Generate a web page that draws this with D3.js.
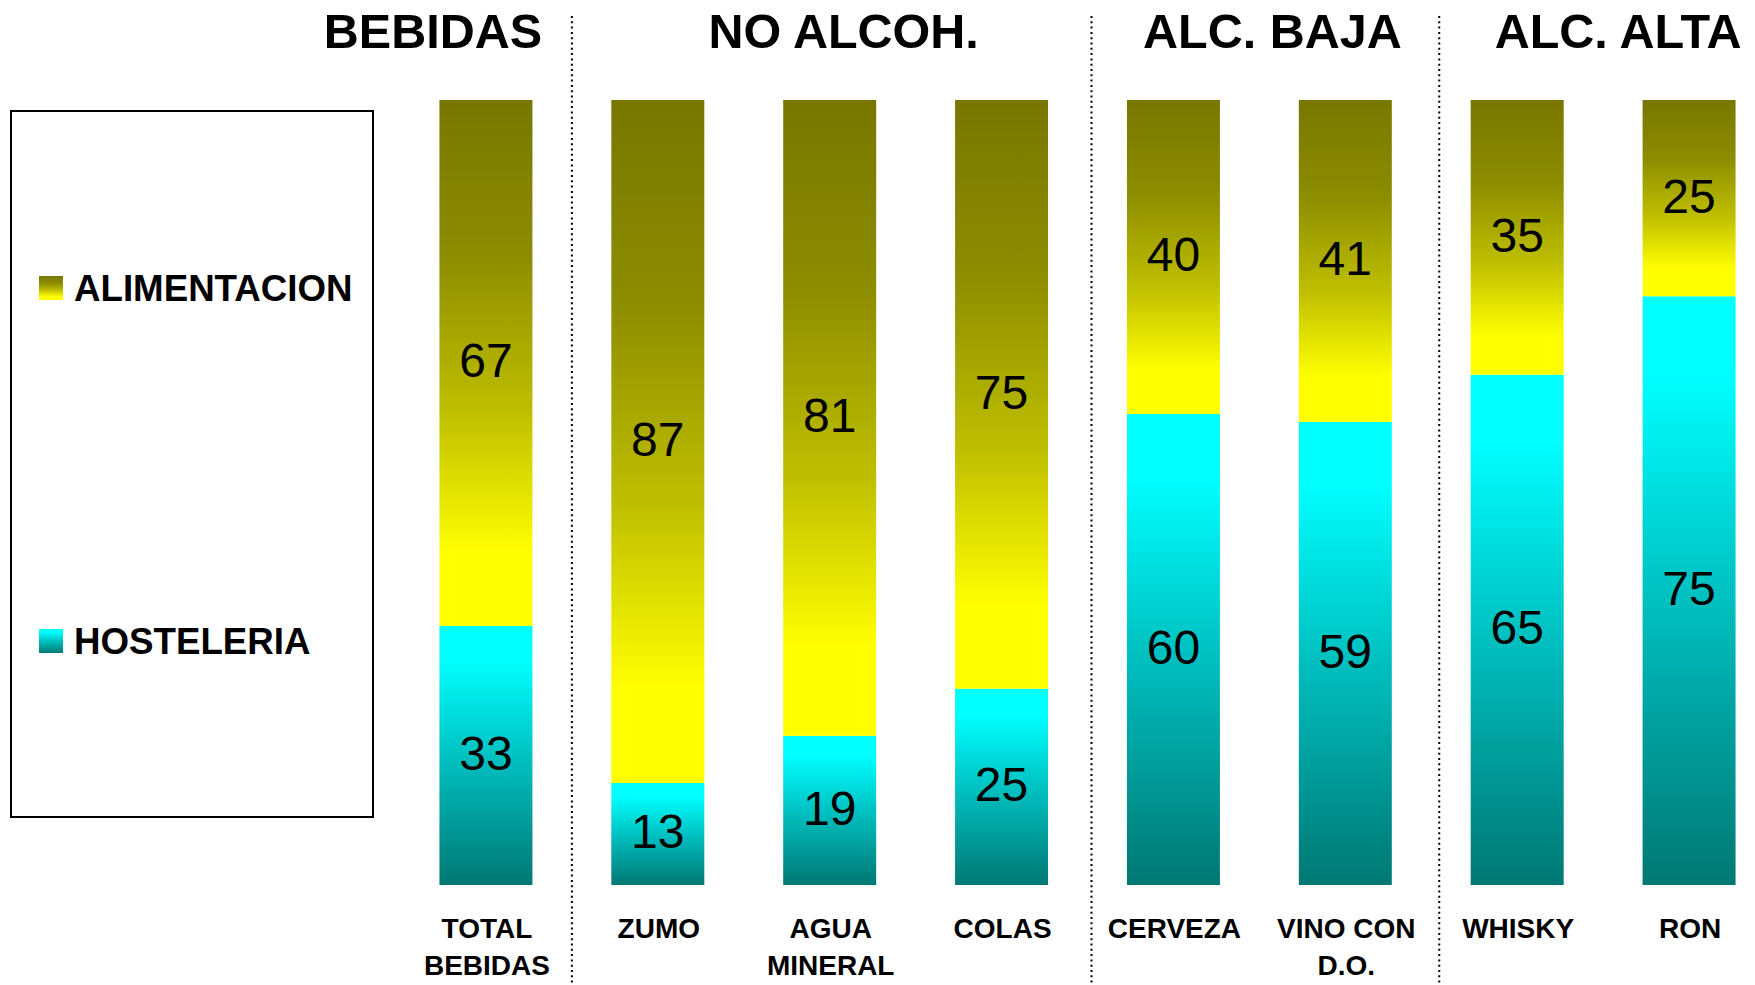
<!DOCTYPE html>
<html>
<head>
<meta charset="utf-8">
<script src="https://cdn.jsdelivr.net/npm/d3@7/dist/d3.min.js"></script>
<style>
  html, body { margin: 0; padding: 0; background: #fff; }
  svg { display: block; font-family: "Liberation Sans", Arial, sans-serif; }
</style>
</head>
<body>
<svg id="chart" width="1755" height="985"></svg>
<script>
// ---- DATA ----
const categories = ["TOTAL BEBIDAS", "ZUMO", "AGUA MINERAL", "COLAS", "CERVEZA", "VINO CON D.O.", "WHISKY", "RON"];
const categoryLines = [["TOTAL", "BEBIDAS"], ["ZUMO"], ["AGUA", "MINERAL"], ["COLAS"], ["CERVEZA"], ["VINO CON", "D.O."], ["WHISKY"], ["RON"]];
const hosteleria = [33, 13, 19, 25, 60, 59, 65, 75];
const alimentacion = [67, 87, 81, 75, 40, 41, 35, 25];
const groupNames = ["BEBIDAS", "NO ALCOH.", "ALC. BAJA", "ALC. ALTA"];
const groupSizes = [1, 3, 2, 2];
const seriesNames = ["ALIMENTACION", "HOSTELERIA"];

// ---- LAYOUT ----
const W = 1755, H = 985;
const yTop = 100, yBottom = 885;
const titleDx = [-53, 14, 13, 15];
const sepDx = [0, 4, 8];

const svg = d3.select("#chart");
const defs = svg.append("defs");

function grad(id, stops) {
  const g = defs.append("linearGradient").attr("id", id)
    .attr("x1", 0).attr("y1", 0).attr("x2", 0).attr("y2", 1);
  stops.forEach(s => g.append("stop").attr("offset", s[0]).attr("stop-color", s[1]));
}
grad("gAli", [[0, "#777700"], [0.3, "#8d8d00"], [0.6, "#c0c000"], [0.86, "#ffff00"], [1, "#ffff00"]]);
grad("gHos", [[0, "#00ffff"], [0.13, "#00ffff"], [0.5, "#00c2c2"], [1, "#007873"]]);

const x = d3.scaleBand().domain(categories).range([400, 1775]).paddingInner(0.459).paddingOuter(0.2295);
const y = d3.scaleLinear().domain([0, 100]).range([yBottom, yTop]);
const bw = x.bandwidth();

const data = categories.map((c, i) => ({ cat: c, hos: hosteleria[i], ali: alimentacion[i], lines: categoryLines[i] }));

// bars
const bars = svg.append("g");
bars.selectAll("rect.hos").data(data).join("rect").attr("class", "hos")
  .attr("x", d => x(d.cat)).attr("width", bw)
  .attr("y", d => y(d.hos)).attr("height", d => y(0) - y(d.hos))
  .attr("fill", "url(#gHos)");
bars.selectAll("rect.ali").data(data).join("rect").attr("class", "ali")
  .attr("x", d => x(d.cat)).attr("width", bw)
  .attr("y", d => y(d.hos + d.ali)).attr("height", d => y(d.hos) - y(d.hos + d.ali))
  .attr("fill", "url(#gAli)");

// value labels
const vfs = 48;
const lab = svg.append("g").attr("font-size", vfs).attr("text-anchor", "middle").attr("fill", "#000");
lab.selectAll("text.vh").data(data).join("text").attr("class", "vh")
  .attr("x", d => x(d.cat) + bw / 2)
  .attr("y", d => (y(0) + y(d.hos)) / 2 + vfs * 0.3)
  .text(d => d.hos);
lab.selectAll("text.va").data(data).join("text").attr("class", "va")
  .attr("x", d => x(d.cat) + bw / 2)
  .attr("y", d => (y(d.hos) + y(d.hos + d.ali)) / 2 + vfs * 0.3)
  .text(d => d.ali);

// category labels
const cl = svg.append("g").attr("font-size", 28).attr("font-weight", "bold").attr("text-anchor", "middle");
data.forEach(d => {
  d.lines.forEach((ln, j) => {
    cl.append("text").attr("x", x(d.cat) + bw / 2 + 1).attr("y", 938 + j * 37).text(ln);
  });
});

// group separators & titles
let idx = 0;
const step = x.step();
const groups = groupNames.map((g, gi) => {
  const first = idx, last = idx + groupSizes[gi] - 1;
  idx += groupSizes[gi];
  return { name: g, first, last };
});
groups.forEach((g, gi) => {
  const c0 = x(categories[g.first]) + bw / 2, c1 = x(categories[g.last]) + bw / 2;
  svg.append("text").attr("x", (c0 + c1) / 2 + titleDx[gi]).attr("y", 48)
    .attr("text-anchor", "middle").attr("font-size", 48.5).attr("font-weight", "bold")
    .text(g.name);
  if (gi < groups.length - 1) {
    const sx = c1 + step / 2 + sepDx[gi];
    svg.append("line").attr("x1", sx).attr("x2", sx).attr("y1", 16).attr("y2", H)
      .attr("stroke", "#000").attr("stroke-width", 2).attr("stroke-dasharray", "2,3.3");
  }
});

// legend
const lg = svg.append("g");
lg.append("rect").attr("x", 11).attr("y", 111).attr("width", 362).attr("height", 706)
  .attr("fill", "none").attr("stroke", "#000").attr("stroke-width", 2);
const legY = [276, 629];
const legFill = ["url(#gAli)", "url(#gHos)"];
seriesNames.forEach((s, i) => {
  lg.append("rect").attr("x", 39).attr("y", legY[i]).attr("width", 24).attr("height", 24).attr("fill", legFill[i]);
  lg.append("text").attr("x", 74).attr("y", legY[i] + 25).attr("font-size", 36.7).attr("font-weight", "bold").text(s);
});
</script>
</body>
</html>
